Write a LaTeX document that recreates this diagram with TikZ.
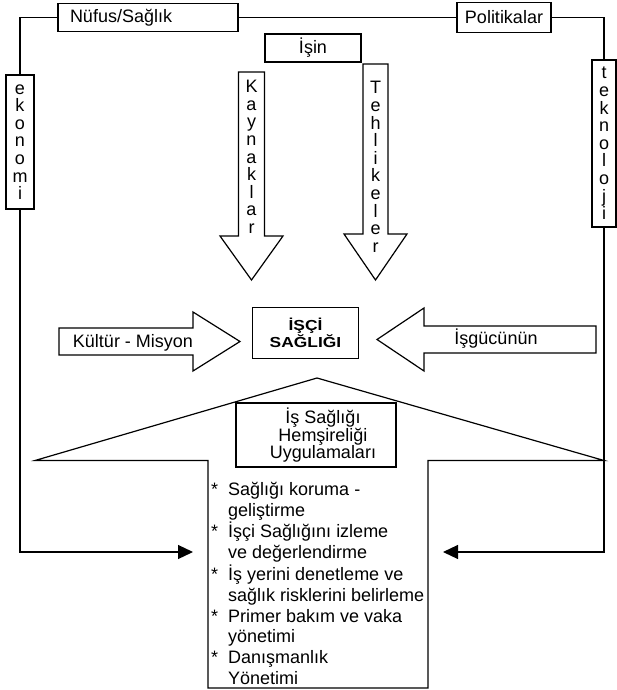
\documentclass[tikz,border=0pt]{standalone}
\usepackage{fontspec}
\setmainfont{Liberation Sans}
\newfontfamily\baslikfont[FakeStretch=1.2]{Liberation Sans Bold}
\usetikzlibrary{arrows.meta}

\tikzset{
	kutu/.style={draw, line width=1.2pt, inner sep=0pt, font=\fontsize{18}{21}\selectfont},
	dikey/.style={align=center, inner sep=0pt, font=\fontsize{18}{17.6}\selectfont},
	blok/.style={draw, line width=1.2pt},
	baglanti/.style={line width=1.2pt},
	ok/.style={baglanti, -{Triangle[length=15pt,width=14pt]}}
}

\begin{document}
\begin{tikzpicture}[x=1pt, y=-1pt, font=\fontsize{18}{21}\selectfont]
				% We will draw the model here
				\useasboundingbox (0,0) rectangle (617,690);
				
				\node (nufus) [kutu, minimum width=180pt, minimum height=28pt, text width=156pt, align=left] at (148,17.5) {Nüfus/Sağlık};
				\node (politika) [kutu, minimum width=94pt, minimum height=30pt] at (504,17.5) {Politikalar};
				\node (isin) [kutu, minimum width=96pt, minimum height=28pt] at (313,48) {İşin};
				\node (ekonomi) [kutu, dikey, minimum width=28pt, minimum height=134pt] at (20,142) {e\\k\\o\\n\\o\\m\\i};
				\node (teknoloji) [kutu, dikey, minimum width=24pt, minimum height=167pt] at (604,143.5) {t\\e\\k\\n\\o\\l\\o\\j\\i};
				
				% block arrows
				\draw[blok] (238.5,72) -- (264.5,72) -- (264.5,236) -- (283,236) -- (251.5,280) -- (220,236) -- (238.5,236) -- cycle;
				\node (kaynak) [dikey] at (251.5,157) {K\\a\\y\\n\\a\\k\\l\\a\\r};
				\draw[blok] (363,64) -- (388,64) -- (388,234) -- (407,234) -- (375.5,280) -- (344,234) -- (363,234) -- cycle;
				\node (tehlike) [dikey] at (375.5,167) {T\\e\\h\\l\\i\\k\\e\\l\\e\\r};
				\draw[blok] (59,328) -- (193,328) -- (193,312) -- (240,341.5) -- (193,371) -- (193,355) -- (59,355) -- cycle;
				\node (kultur) [anchor=base] at (133,347) {Kültür - Misyon};
				\draw[blok] (596,326) -- (424,326) -- (424,308) -- (377,339.5) -- (424,371) -- (424,353) -- (596,353) -- cycle;
				\node (isgucu) [anchor=base] at (496,344) {İşgücünün};
				
				\node (isci) [kutu, minimum width=106pt, minimum height=51pt, align=center, font=\fontsize{14.5}{15}\baslikfont] at (305.5,333) {İŞÇİ\\SAĞLIĞI};
				
				% roof and list
				\draw[blok] (35,460.5) -- (317,378) -- (604,460.5) -- (428,460.5) -- (428,688) -- (208,688) -- (208,460.5) -- cycle;
				\node (hsbox) [kutu, minimum width=160pt, minimum height=64pt] at (316,435) {};
				\node (hstext) [align=center, font=\fontsize{18}{17}\selectfont] at (323,435) {İş Sağlığı\\Hemşireliği\\Uygulamaları};
				\node (liste) [anchor=north west, inner sep=0pt, font=\fontsize{18}{20.8}\selectfont] at (211,480.5) {%
					\begin{tabular}{@{}l@{\hspace{10pt}}l@{}}
						{*} & Sağlığı koruma -\\
						& geliştirme\\
						{*} & İşçi Sağlığını izleme\\
						& ve değerlendirme\\
						{*} & İş yerini denetleme ve\\
						& sağlık risklerini belirleme\\
						{*} & Primer bakım ve vaka\\
						& yönetimi\\
						{*} & Danışmanlık\\
						& Yönetimi
					\end{tabular}};
				
				% connectors
				\coordinate (solok) at (193,552);
				\coordinate (sagok) at (443,552);
				\draw[baglanti] (nufus.west) -| (ekonomi.north);
				\draw[baglanti] (nufus.east) -- (politika.west);
				\draw[baglanti] (politika.east) -| (teknoloji.north);
				\draw[ok] (ekonomi.south) |- (solok);
				\draw[ok] (teknoloji.south) |- (sagok);
				
\end{tikzpicture}
\end{document}
